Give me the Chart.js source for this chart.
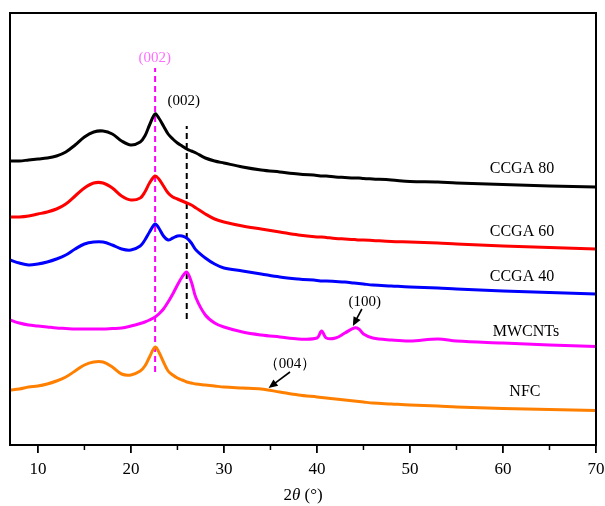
<!DOCTYPE html>
<html>
<head>
<meta charset="utf-8">
<script src="https://cdn.jsdelivr.net/npm/chart.js@4.4.0/dist/chart.umd.min.js"></script>
<style>
  html, body { margin: 0; padding: 0; background: #fff; }
  #wrap { width: 605px; height: 506px; }
</style>
</head>
<body>
<div id="wrap"><canvas id="xrd_chart"></canvas></div>
<script>
// XRD patterns, intensities are offset (a.u.)
var twoTheta = [7,8,9,10,11,12,13,14,15,16,17,18,19,20,21,21.5,22,22.6,23,23.5,24,24.5,25,25.5,26,26.5,27,28,29,30,32,34,36,38,40,40.5,41,42,43,44,44.5,45,46,48,50,53,55,60,65,70]

var ccga80 = [284,284,285,286,287,289,293,300,308,313,314,311,304,300,303,309,320,331,327,319,311,306,302,299,296,294,292,287,284,282,278,275,273,271,269.5,269,269,268,267.5,267,267,266.5,266,265,263.5,263,262,260.5,259,258]
var ccga60 = [228,228,229,231,233,236,241,249,257,262,262,257,249,245,247,253,262,269,266,259,252,248,246,244,242,240,237,231,226,223,219,216,213,210,208,208,207.5,206.5,206,205.5,205,205,204.5,203.5,203,202,201,199,197.5,196]
var ccga40 = [185,182,180,181,183,186,190,196,201,203,203,200,196,195,199,205,213,221,217,209,205,207,209,209,207,202,195,187,181,177,174,171,168,166,164.5,164,164,163.5,163,162,161.5,161,160,159,158,157,156,154,152.5,151]
var mwcnts = [125,122,120,119,118,117,116.5,116,116,116,116,116.5,117,119,121.5,123,125,128,131,136,143,151,160,168,173,163,147,130,122,118,113,110,108,106,107,114,107,107,112,117,116,111,107,105,104,106,104,102,100,98.5]
var nfc = [55,56,58,59,61,64,68,74,80,83,83,78,71,70,74,79,88,98,93,83,74,70,67,65,63,62,61,60,59,58,57,56,53,50,48,47.5,47,46,45,44,43.5,43,42,41,40,39,38,36.5,35.5,34.5]

var seriesNames = ['CCGA 80', 'CCGA 60', 'CCGA 40', 'MWCNTs', 'NFC']
var seriesColors = ['#000000', '#ff0000', '#0000ff', '#ff00ff', '#ff8000']
var xTicks = [10, 20, 30, 40, 50, 60, 70]
var xMinorTicks = [15, 25, 35, 45, 55, 65]

// dashed reference lines (002)
var refLineX = [22.6, 26]
var refLineLow = [73, 126]
var refLineHigh = [377, 319]
var refLineColors = ['#ff00ff', '#000000']

// text labels
var labelText = ['(002)', '(002)', 'CCGA 80', 'CCGA 60', 'CCGA 40', 'MWCNTs', 'NFC', '(100)', '\uFF08004\uFF09']
var labelX = [22.56, 25.68, 62.04, 62.04, 62.04, 62.47, 62.36, 45.15, 37.09]
var labelY = [387, 344, 276, 213, 168, 113, 53, 143, 81]
var labelColor = ['#ff6eff', '#000', '#000', '#000', '#000', '#000', '#000', '#000', '#000']
var labelSize = [15, 15, 16, 16, 16, 16, 16, 15, 15]

// arrows [x0,y0 -> x1,y1]
var arrowFrom = [[44.83, 136], [37.1, 73]]
var arrowTo = [[43.86, 119], [34.8, 57]]

const toPoints = (arr) => arr.map((v, i) => ({x: twoTheta[i], y: v}))

var datasets = [ccga80, ccga60, ccga40, mwcnts, nfc].map((arr, i) => ({
  label: seriesNames[i],
  data: toPoints(arr),
  borderColor: seriesColors[i],
  borderWidth: 3,
  pointRadius: 0,
  tension: 0.35,
  fill: false
}))

refLineX.forEach((x, i) => {
  datasets.push({
    label: 'ref' + i,
    data: [{x: x, y: refLineLow[i]}, {x: x, y: refLineHigh[i]}],
    borderColor: refLineColors[i],
    borderWidth: 2,
    borderDash: [6, 4],
    pointRadius: 0
  })
})

const SERIF = '"Liberation Serif", "DejaVu Serif", serif'

const extras = {
  id: 'extras',
  afterDraw(chart) {
    const ctx = chart.ctx
    const a = chart.chartArea
    const xs = chart.scales.x
    const ys = chart.scales.y
    ctx.save()
    // frame
    ctx.strokeStyle = '#000'
    ctx.lineWidth = 2
    ctx.strokeRect(a.left, a.top, a.right - a.left, a.bottom - a.top)
    // minor ticks
    ctx.lineWidth = 1.5
    xMinorTicks.forEach((v) => {
      const px = xs.getPixelForValue(v)
      ctx.beginPath()
      ctx.moveTo(px, a.bottom)
      ctx.lineTo(px, a.bottom + 5)
      ctx.stroke()
    })
    // labels
    ctx.textAlign = 'center'
    ctx.textBaseline = 'middle'
    labelText.forEach((t, i) => {
      ctx.fillStyle = labelColor[i]
      ctx.font = labelSize[i] + 'px ' + SERIF
      ctx.fillText(t, xs.getPixelForValue(labelX[i]), ys.getPixelForValue(labelY[i]))
    })
    // arrows
    ctx.fillStyle = '#000'
    ctx.strokeStyle = '#000'
    ctx.lineWidth = 1.6
    arrowFrom.forEach((f, i) => {
      const x0 = xs.getPixelForValue(f[0]), y0 = ys.getPixelForValue(f[1])
      const x1 = xs.getPixelForValue(arrowTo[i][0]), y1 = ys.getPixelForValue(arrowTo[i][1])
      const ang = Math.atan2(y1 - y0, x1 - x0)
      ctx.beginPath()
      ctx.moveTo(x0, y0)
      ctx.lineTo(x1 - 6 * Math.cos(ang), y1 - 6 * Math.sin(ang))
      ctx.stroke()
      ctx.beginPath()
      ctx.moveTo(x1, y1)
      ctx.lineTo(x1 - 9 * Math.cos(ang) + 4 * Math.sin(ang), y1 - 9 * Math.sin(ang) - 4 * Math.cos(ang))
      ctx.lineTo(x1 - 9 * Math.cos(ang) - 4 * Math.sin(ang), y1 - 9 * Math.sin(ang) + 4 * Math.cos(ang))
      ctx.closePath()
      ctx.fill()
    })
    // axis title 2θ (°)
    ctx.fillStyle = '#000'
    ctx.textBaseline = 'alphabetic'
    ctx.textAlign = 'left'
    const cx = (a.left + a.right) / 2
    const ty = 500
    const p1 = '2', p2 = '\u03B8', p3 = ' (\u00B0)'
    ctx.font = '17px ' + SERIF
    const w1 = ctx.measureText(p1).width
    const w3 = ctx.measureText(p3).width
    ctx.font = 'italic 17px ' + SERIF
    const w2 = ctx.measureText(p2).width
    let sx = cx - (w1 + w2 + w3) / 2
    ctx.font = '17px ' + SERIF
    ctx.fillText(p1, sx, ty)
    ctx.font = 'italic 17px ' + SERIF
    ctx.fillText(p2, sx + w1, ty)
    ctx.font = '17px ' + SERIF
    ctx.fillText(p3, sx + w1 + w2, ty)
    ctx.restore()
  }
}

new Chart(document.getElementById('xrd_chart').getContext('2d'), {
  type: 'line',
  data: { datasets: datasets },
  options: {
    responsive: true,
    maintainAspectRatio: false,
    animation: false,
    layout: { padding: { left: 10, top: 13, right: 9, bottom: 0 } },
    plugins: { legend: { display: false }, tooltip: { enabled: false } },
    scales: {
      x: {
        type: 'linear',
        min: 7,
        max: 70,
        afterBuildTicks: (s) => { s.ticks = xTicks.map((v) => ({value: v})) },
        afterFit: (s) => {
          s.height = 61
          s.paddingLeft = 0
          s.paddingRight = 0
        },
        grid: { display: true, drawOnChartArea: false, drawTicks: true, tickLength: 8, color: '#000', lineWidth: 1.8 },
        border: { display: true, color: '#000', width: 2 },
        ticks: { color: '#000', font: { family: SERIF, size: 17 }, padding: 6, maxRotation: 0 }
      },
      y: {
        display: false,
        min: 0,
        max: 432
      }
    }
  },
  plugins: [extras]
})
</script>
</body>
</html>
